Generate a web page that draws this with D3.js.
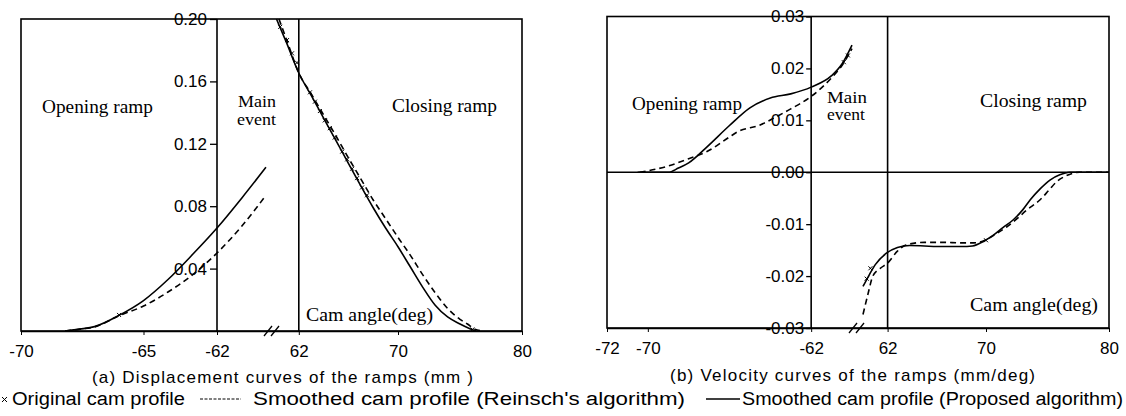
<!DOCTYPE html>
<html><head><meta charset="utf-8">
<script src="https://cdn.jsdelivr.net/npm/d3@7"></script>
<style>body{margin:0;background:#fff} svg{display:block}</style>
</head><body><svg id="c" width="1126" height="416"></svg>
<script>
// ---------- data ----------
const dispTicksY = [0.04, 0.08, 0.12, 0.16, 0.20];
const dispTicksX = [-70, -65, -62, 62, 70, 80];
const velTicksY = [-0.03, -0.02, -0.01, 0, 0.01, 0.02, 0.03];
const velTicksX = [-72, -70, -62, 62, 70, 80];

// (a) displacement, opening ramp
const dispOpenX      = [-68.2, -67.6, -67, -66, -65, -64, -63, -62, -61, -60];
const dispOpenSolid  = [0, 0.0012, 0.0028, 0.0100, 0.0195, 0.033, 0.049, 0.066, 0.085, 0.105];
const dispOpenDashed = [0, 0.0012, 0.0026, 0.0098, 0.016, 0.025, 0.036, 0.050, 0.067, 0.087];
// (a) displacement, closing ramp
const dispCloseSolidX = [60.2, 61, 62, 63, 64, 65, 66, 67, 68, 69, 70, 71, 72, 73, 74, 75, 75.8, 76.3];
const dispCloseSolid  = [0.20, 0.185, 0.1654, 0.151, 0.1365, 0.122, 0.1075, 0.093, 0.079, 0.066, 0.054, 0.041, 0.028, 0.0165, 0.009, 0.0045, 0.0015, 0];
const dispCloseDashedX = [60.4, 61, 62, 63, 64, 65, 66, 67, 68, 69, 70, 71, 72, 73, 74, 75, 75.6, 76.2, 76.8];
const dispCloseDashed  = [0.20, 0.187, 0.1654, 0.152, 0.1385, 0.125, 0.111, 0.0975, 0.084, 0.072, 0.060, 0.0485, 0.036, 0.0245, 0.0145, 0.0075, 0.0045, 0.0012, 0];
// (a) original cam profile points (x marks)
const dispOrigX = [60.5, 61.05, 61.45, 61.85, 62.9, 63.3, 63.7, 64.1, 64.5, 64.9, 65.5, 65.9, 66.3, 66.7, 67.1, 67.5, -66.0, 76.0];
const dispOrigY = [0.195, 0.1865, 0.178, 0.172, 0.153, 0.147, 0.141, 0.135, 0.130, 0.124, 0.115, 0.110, 0.104, 0.098, 0.092, 0.087, 0.0103, 0.001];

// (b) velocity, opening ramp
const velOpenSolidX = [-70.5, -69, -68.5, -68, -67.1, -66, -65, -64, -63, -62, -61, -60.5, -60];
const velOpenSolid  = [0, 0, 0.0008, 0.0018, 0.0049, 0.009, 0.0124, 0.0143, 0.0151, 0.0164, 0.0186, 0.0208, 0.0245];
const velOpenDashedX = [-70.4, -69, -68, -67.1, -66, -65.6, -64.5, -63.7, -63, -62, -61, -60.5, -60];
const velOpenDashed  = [0, 0.0012, 0.0026, 0.004, 0.0068, 0.0078, 0.0091, 0.0107, 0.0122, 0.0146, 0.0182, 0.0205, 0.0238];
// (b) velocity, closing ramp
const velCloseSolidX = [60, 60.5, 61, 61.9, 62.8, 63.8, 65, 66, 67, 68, 68.9, 69.8, 70.6, 71.4, 72.2, 73, 73.6, 74.4, 75.2, 76, 76.8, 78, 80];
const velCloseSolid  = [-0.022, -0.0198, -0.0178, -0.0156, -0.0145, -0.0141, -0.0142, -0.0143, -0.0143, -0.0143, -0.0142, -0.0133, -0.0121, -0.0106, -0.0092, -0.0072, -0.0053, -0.0032, -0.0015, -0.0005, 0, 0, 0];
const velCloseDashedX = [60, 60.4, 60.8, 61.4, 62, 62.8, 63.5, 65, 66.5, 68, 69, 70, 70.8, 71.7, 72.5, 73.3, 74.4, 75.1, 75.75, 76.5, 77.6, 80];
const velCloseDashed  = [-0.0274, -0.0235, -0.0200, -0.0185, -0.0175, -0.0152, -0.0140, -0.0135, -0.0135, -0.0136, -0.0136, -0.013, -0.0119, -0.0105, -0.009, -0.0073, -0.0053, -0.0035, -0.0018, -0.0007, 0, 0];
// (b) original points
const velOrigX = [-60.4, -60.2, 60.3, 60.6, 70.0];
const velOrigY = [0.0212, 0.0225, -0.0205, -0.0185, -0.0131];

// ---------- drawing ----------
const svg = d3.select('#c');
const SANS = '"Liberation Sans", Arial, sans-serif';
const SERIF = '"Liberation Serif", "Times New Roman", serif';

function panel(cfg) {
  const g = svg.append('g');
  const x = d3.scaleLinear().domain(cfg.xDomain).range(cfg.xRange);
  const y = d3.scaleLinear().domain(cfg.yDomain).range(cfg.yRange);
  const [x0, x1] = [cfg.xRange[0], cfg.xRange[cfg.xRange.length - 1]];
  const [yb, yt] = cfg.yRange;

  g.append('rect').attr('x', x0).attr('y', yt).attr('width', x1 - x0).attr('height', yb - yt)
    .attr('fill', 'none').attr('stroke', '#000').attr('stroke-width', 1.6);
  [-62, 62].forEach(v => g.append('line').attr('x1', x(v)).attr('x2', x(v)).attr('y1', yt).attr('y2', yb)
    .attr('stroke', '#000').attr('stroke-width', 1.6));
  if (cfg.zeroLine) g.append('line').attr('x1', x0).attr('x2', x1).attr('y1', y(0)).attr('y2', y(0))
    .attr('stroke', '#000').attr('stroke-width', 1.6);

  const ax = g.append('g').attr('transform', `translate(0,${yb})`)
    .call(d3.axisBottom(x).tickValues(cfg.xTicks).tickSize(4).tickSizeOuter(0).tickPadding(10).tickFormat(d => String(d)));
  ax.select('.domain').attr('stroke-width', 1.6);
  ax.selectAll('text').attr('font-family', SANS).attr('font-size', 17).attr('fill', '#000');
  const ay = g.append('g').attr('transform', `translate(${x(-62)},0)`)
    .call(d3.axisLeft(y).tickValues(cfg.yTicks).tickSize(cfg.yTickSize).tickSizeOuter(0).tickPadding(cfg.yPad).tickFormat(d => d.toFixed(2)));
  ay.select('.domain').remove();
  ay.selectAll('line').attr('stroke-width', 1.3);
  ay.selectAll('text').attr('font-family', SANS).attr('font-size', 17).attr('fill', '#000');

  const bx = cfg.breakX;
  [-4, 3].forEach(o => g.append('line')
    .attr('x1', bx + o - 4).attr('y1', yb + 5).attr('x2', bx + o + 4).attr('y2', yb - 5)
    .attr('stroke', '#000').attr('stroke-width', 1.3));

  const line = d3.line().x(d => x(d[0])).y(d => y(d[1])).curve(d3.curveMonotoneX);
  cfg.curves.forEach(c => {
    g.append('path').datum(d3.zip(c.x, c.y)).attr('d', line).attr('fill', 'none')
      .attr('stroke', '#000').attr('stroke-width', 1.6)
      .attr('stroke-dasharray', c.dashed ? '6,4' : null);
  });
  d3.zip(cfg.origX, cfg.origY).forEach(p => {
    const px = x(p[0]), py = y(p[1]), s = 2;
    g.append('path').attr('d', `M${px - s},${py - s}L${px + s},${py + s}M${px - s},${py + s}L${px + s},${py - s}`)
      .attr('stroke', '#000').attr('stroke-width', 1);
  });

  cfg.notes.forEach(n => {
    g.append('text').attr('x', n.x).attr('y', n.y).attr('font-family', SERIF).attr('font-size', n.fs || 18)
      .attr('textLength', n.w).attr('lengthAdjust', 'spacingAndGlyphs').text(n.t);
  });
  g.append('text').attr('x', cfg.title.x).attr('y', cfg.title.y).attr('font-family', SANS).attr('font-size', 17)
    .attr('textLength', cfg.title.w).attr('lengthAdjust', 'spacing').text(cfg.title.t);
}

panel({
  xDomain: [-70, -60, 60, 80], xRange: [21, 266, 274, 522],
  yDomain: [0, 0.2], yRange: [331, 19],
  xTicks: dispTicksX, yTicks: dispTicksY, yTickSize: 7, yPad: 3,
  breakX: 272, zeroLine: false,
  curves: [
    {x: dispOpenX, y: dispOpenSolid}, {x: dispOpenX, y: dispOpenDashed, dashed: true},
    {x: dispCloseSolidX, y: dispCloseSolid}, {x: dispCloseDashedX, y: dispCloseDashed, dashed: true}
  ],
  origX: dispOrigX, origY: dispOrigY,
  notes: [
    {t: 'Opening ramp', x: 42, y: 113, w: 111},
    {t: 'Main', x: 238, y: 107, w: 38, fs: 17},
    {t: 'event', x: 237, y: 125, w: 39, fs: 17},
    {t: 'Closing ramp', x: 392, y: 112, w: 105},
    {t: 'Cam angle(deg)', x: 306, y: 321, w: 127}
  ],
  title: {t: '(a) Displacement curves of the ramps  (mm )', x: 92, y: 383, w: 381}
});

panel({
  xDomain: [-72, -60, 60, 80], xRange: [607, 852, 863, 1109],
  yDomain: [-0.03, 0.03], yRange: [328, 16.5],
  xTicks: velTicksX, yTicks: velTicksY, yTickSize: 5, yPad: 2,
  breakX: 857, zeroLine: true,
  curves: [
    {x: velOpenSolidX, y: velOpenSolid}, {x: velOpenDashedX, y: velOpenDashed, dashed: true},
    {x: velCloseSolidX, y: velCloseSolid}, {x: velCloseDashedX, y: velCloseDashed, dashed: true}
  ],
  origX: velOrigX, origY: velOrigY,
  notes: [
    {t: 'Opening ramp', x: 632, y: 110, w: 110},
    {t: 'Main', x: 827, y: 103, w: 40, fs: 17},
    {t: 'event', x: 827, y: 120, w: 38, fs: 17},
    {t: 'Closing ramp', x: 980, y: 107, w: 107},
    {t: 'Cam angle(deg)', x: 970, y: 311, w: 128}
  ],
  title: {t: '(b) Velocity curves of the ramps (mm/deg)', x: 670, y: 381, w: 365}
});

// legend
const lg = svg.append('g').attr('font-family', SANS).attr('font-size', 18);
lg.append('path').attr('d', 'M2,397L7,402M2,402L7,397').attr('stroke', '#000').attr('stroke-width', 1);
lg.append('text').attr('x', 12).attr('y', 405).attr('textLength', 173).attr('lengthAdjust', 'spacingAndGlyphs').text('Original cam profile');
lg.append('line').attr('x1', 200).attr('x2', 241).attr('y1', 399).attr('y2', 399).attr('stroke', '#000')
  .attr('stroke-width', 1).attr('stroke-dasharray', '3,1.5');
lg.append('text').attr('x', 253).attr('y', 405).attr('textLength', 432).attr('lengthAdjust', 'spacingAndGlyphs').text("Smoothed cam profile (Reinsch's algorithm)");
lg.append('line').attr('x1', 706).attr('x2', 740).attr('y1', 399).attr('y2', 399).attr('stroke', '#000').attr('stroke-width', 1.3);
lg.append('text').attr('x', 742).attr('y', 405).attr('textLength', 381).attr('lengthAdjust', 'spacingAndGlyphs').text('Smoothed cam profile (Proposed algorithm)');
</script></body></html>
